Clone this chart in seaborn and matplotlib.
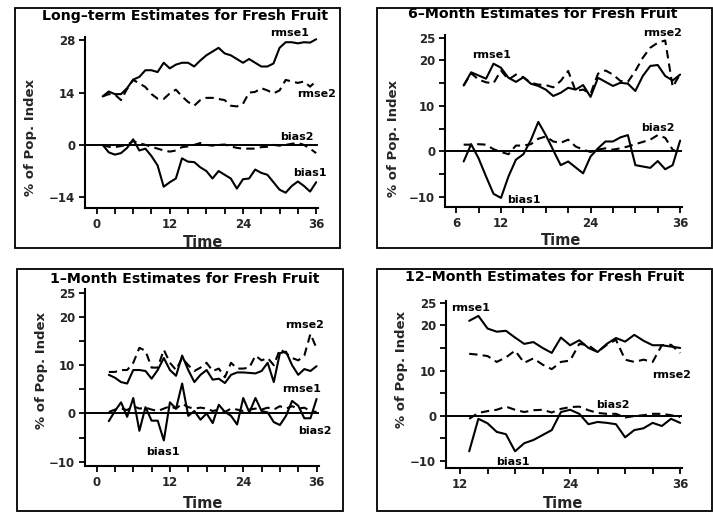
import numpy as np
import pandas as pd
import matplotlib
matplotlib.use("Agg")
import matplotlib.pyplot as plt
from matplotlib.patches import Rectangle
import seaborn as sns

# ---------------- data ----------------
# Long-term estimates (time 1..36)
lt_time = list(range(1, 37))
lt_rmse1 = [13.0, 14.3, 13.6, 13.6, 15.2, 17.5, 18.2, 20.0, 20.0, 19.5, 22.0, 20.5,
            21.5, 22.0, 22.0, 21.0, 22.6, 24.0, 25.0, 26.0, 24.5, 24.0, 23.0, 22.0,
            23.0, 22.0, 21.0, 21.0, 21.8, 26.0, 27.5, 27.5, 27.2, 27.5, 27.4, 28.3]
lt_rmse2 = [13.0, 13.6, 13.5, 12.0, 15.0, 17.4, 16.5, 15.5, 13.6, 12.4, 12.3, 13.8,
            14.8, 13.0, 11.5, 10.5, 12.0, 12.6, 12.6, 12.3, 12.0, 10.5, 10.3, 11.0,
            14.0, 14.2, 15.2, 14.6, 13.8, 14.6, 17.4, 17.0, 16.6, 17.0, 15.6, 17.1]
lt_bias1 = [0.0, -2.0, -2.6, -2.2, -0.8, 1.5, -1.5, -1.0, -3.0, -5.5, -11.2, -10.0,
            -9.0, -3.6, -4.5, -4.6, -6.0, -7.0, -9.0, -7.0, -8.0, -9.0, -11.7, -9.2,
            -9.0, -6.6, -7.5, -8.0, -10.0, -12.0, -12.8, -11.0, -9.8, -11.0, -12.5, -10.0]
lt_bias2 = [0.0, -0.5, -0.6, -0.3, 0.0, 1.0, 0.5, 0.0, -0.5, -1.0, -1.5, -1.8,
            -1.5, -0.6, -0.4, 0.0, 0.5, 0.0, -0.2, 0.0, 0.1, -0.4, -0.8, -1.0,
            -1.0, -1.0, -0.6, -0.5, 0.0, -0.2, 0.0, 0.3, 0.5, 0.0, -1.0, -2.2]

# 6-month estimates (time 7..36)
m6_time = list(range(7, 37))
m6_rmse1 = [14.5, 17.4, 16.7, 16.0, 19.3, 18.4, 16.2, 15.3, 16.3, 14.9, 14.4, 13.6,
            12.2, 12.9, 14.0, 13.6, 14.6, 12.0, 16.2, 15.3, 14.4, 15.1, 14.9, 13.3,
            16.6, 18.8, 19.0, 16.6, 15.6, 16.9]
m6_rmse2 = [14.5, 17.2, 15.8, 15.2, 15.0, 17.8, 15.8, 16.9, 16.3, 15.1, 14.7, 14.6,
            14.1, 15.5, 17.7, 13.3, 13.6, 12.7, 17.1, 17.8, 16.9, 15.5, 15.3, 17.7,
            20.6, 22.8, 23.9, 24.4, 14.2, 17.0]
m6_bias1 = [-2.2, 1.6, -1.5, -5.5, -9.3, -10.2, -5.5, -1.8, -0.6, 2.5, 6.5, 3.6,
            0.3, -3.0, -2.2, -3.5, -4.8, -1.1, 0.7, 2.2, 2.2, 3.1, 3.6, -3.0,
            -3.3, -3.6, -2.1, -3.9, -3.0, 2.4]
m6_bias2 = [1.5, 1.5, 1.6, 1.5, 0.5, -0.1, -0.6, 1.3, 1.3, 1.6, 2.8, 3.3,
            2.2, 1.9, 2.6, 1.1, 0.4, -0.1, 0.4, 0.7, 0.4, 0.7, 1.1, 1.6,
            2.1, 2.6, 3.6, 3.0, 0.4, -0.4]

# 1-month estimates (time 2..36)
m1_time = list(range(2, 37))
m1_rmse1 = [8.0, 7.4, 6.5, 6.2, 9.0, 9.0, 8.8, 7.2, 9.0, 11.5, 9.0, 7.8,
            12.0, 9.0, 6.5, 8.0, 9.0, 7.0, 7.2, 6.3, 8.0, 8.5, 8.5, 8.4,
            8.3, 8.8, 10.5, 6.5, 12.5, 12.8, 10.0, 8.0, 9.2, 8.8, 9.8]
m1_rmse2 = [8.6, 8.6, 9.0, 9.0, 10.5, 13.6, 13.0, 9.5, 9.5, 13.2, 10.5, 9.0,
            11.5, 10.0, 8.8, 9.5, 10.5, 8.8, 9.3, 7.5, 10.5, 9.3, 9.3, 9.5,
            12.0, 11.0, 11.5, 10.0, 13.3, 12.5, 11.5, 11.0, 12.0, 16.5, 13.5]
m1_bias1 = [-1.6, 0.5, 2.3, -0.7, 3.2, -3.6, 1.3, -1.5, -1.5, -5.6, 2.3, 1.0,
            6.2, -0.5, 0.5, -1.3, 0.0, -2.0, 1.8, 0.3, -0.5, -2.3, 3.2, 0.2,
            3.2, 0.5, 0.2, -1.8, -2.4, -0.5, 2.6, 1.6, -1.0, -1.0, 3.0]
m1_bias2 = [0.3, 0.8, 1.0, 0.7, 1.5, 1.0, 1.2, 0.8, 0.5, 1.0, 1.5, 1.0,
            2.0, 1.3, 1.0, 1.2, 1.0, 0.5, 0.8, 0.3, 1.0, 0.8, 0.5, 0.8,
            1.0, 0.8, 1.2, 0.8, 1.5, 1.0, 1.5, 1.0, 1.2, 0.5, 0.3]

# 12-month estimates (time 13..36)
m12_time = list(range(13, 37))
m12_rmse1 = [21.0, 22.1, 19.3, 18.6, 18.8, 17.3, 15.9, 16.3, 15.0, 13.9, 17.3, 15.6,
             16.7, 15.0, 14.1, 15.9, 17.2, 16.4, 17.9, 16.6, 15.6, 15.6, 15.3, 15.0]
m12_rmse2 = [13.7, 13.5, 13.2, 11.9, 12.9, 14.4, 11.7, 12.7, 11.3, 10.3, 11.9, 12.2,
             15.9, 15.6, 14.1, 15.7, 16.8, 12.4, 11.9, 12.4, 11.9, 15.6, 15.7, 13.9]
m12_bias1 = [-7.9, -0.7, -1.7, -3.6, -4.1, -7.9, -6.1, -5.4, -4.3, -3.2, 0.8, 1.3,
             0.4, -1.9, -1.4, -1.6, -1.9, -4.8, -3.2, -2.8, -1.6, -2.3, -0.7, -1.6]
m12_bias2 = [-0.7, 0.6, 1.0, 1.3, 2.0, 1.3, 0.8, 1.2, 1.3, 0.7, 1.5, 1.9,
             2.0, 1.2, 0.6, 0.4, 0.4, -0.4, -0.1, 0.1, 0.4, 0.4, 0.1, -0.3]

series_names = ["rmse1", "rmse2", "bias1", "bias2"]
panel_titles = ["Long\u2013term Estimates for Fresh Fruit",
                "6\u2013Month Estimates for Fresh Fruit",
                "1\u2013Month Estimates for Fresh Fruit",
                "12\u2013Month Estimates for Fresh Fruit"]

# ---------------- styling ----------------
sns.set_theme(style="ticks")
plt.rcParams["font.family"] = ["DejaVu Sans"]
plt.rcParams["font.weight"] = "bold"
plt.rcParams["axes.unicode_minus"] = True

W, H = 713, 512
fig = plt.figure(figsize=(W / 100, H / 100), dpi=100)
fig.patch.set_facecolor("white")


def frac_box(l, r, t, b):
    return [l / W, 1 - b / H, (r - l) / W, (b - t) / H]


panels = [
    dict(time=lt_time, vals=[lt_rmse1, lt_rmse2, lt_bias1, lt_bias2],
         box=frac_box(85, 318, 37, 208), xlim=(-1.9, 36.3), ylim=(-16.9, 28.9),
         xticks=list(range(0, 37, 3)), xlabels={0: "0", 12: "12", 24: "24", 36: "36"},
         yticks=[-14, 0, 14, 28], ylabels={-14: "\u221214", 0: "0", 14: "14", 28: "28"},
         labels={"rmse1": (31.7, 29.9), "rmse2": (36.1, 13.6),
                 "bias2": (32.8, 2.1), "bias1": (34.9, -7.5)},
         ylab=(-0.206, 0.41), xlab=(0.506, -0.158), title=(185, 16),
         frame=(15, 8, 340, 248)),
    dict(time=m6_time, vals=[m6_rmse1, m6_rmse2, m6_bias1, m6_bias2],
         box=frac_box(445, 682, 35, 207), xlim=(4.5, 36.25), ylim=(-12.2, 25.6),
         xticks=list(range(6, 37, 3)), xlabels={6: "6", 12: "12", 24: "24", 36: "36"},
         yticks=list(range(-10, 26, 5)),
         ylabels={-10: "\u221210", 0: "0", 10: "10", 20: "20", 25: "25"},
         labels={"rmse1": (10.8, 21.3), "rmse2": (33.7, 26.1),
                 "bias2": (33.0, 5.2), "bias1": (15.0, -10.6)},
         ylab=(-0.19, 0.40), xlab=(0.49, -0.151), title=(543, 14),
         frame=(377, 8, 712, 248)),
    dict(time=m1_time, vals=[m1_rmse1, m1_rmse2, m1_bias1, m1_bias2],
         box=frac_box(85, 319, 289, 466), xlim=(-1.9, 36.4), ylim=(-10.9, 25.8),
         xticks=list(range(0, 37, 3)), xlabels={0: "0", 12: "12", 24: "24", 36: "36"},
         yticks=list(range(-10, 26, 5)),
         ylabels={-10: "\u221210", 0: "0", 10: "10", 20: "20", 25: "25"},
         labels={"rmse1": (33.6, 5.1), "rmse2": (34.1, 18.4),
                 "bias2": (35.8, -3.6), "bias1": (10.9, -8.0)},
         ylab=(-0.158, 0.54), xlab=(0.506, -0.169), title=(185, 279),
         frame=(17, 269, 343, 511)),
    dict(time=m12_time, vals=[m12_rmse1, m12_rmse2, m12_bias1, m12_bias2],
         box=frac_box(446, 682, 301, 468), xlim=(10.47, 36.2), ylim=(-11.6, 25.4),
         xticks=list(range(12, 37, 3)), xlabels={12: "12", 24: "24", 36: "36"},
         yticks=list(range(-10, 26, 5)),
         ylabels={-10: "\u221210", 0: "0", 10: "10", 20: "20", 25: "25"},
         labels={"rmse1": (13.1, 23.9), "rmse2": (35.1, 8.9),
                 "bias2": (28.7, 2.4), "bias1": (17.8, -10.3)},
         ylab=(-0.16, 0.59), xlab=(0.496, -0.168), title=(545, 277),
         frame=(377, 269, 712, 511)),
]

line_styles = {"rmse1": "-", "rmse2": (0, (4, 2.5)), "bias1": "-", "bias2": (0, (4, 2.5))}

for p, title in zip(panels, panel_titles):
    ax = fig.add_axes(p["box"])
    ax.set_facecolor("white")
    df = pd.DataFrame({"Time": np.tile(p["time"], 4),
                       "value": np.concatenate(p["vals"]),
                       "series": np.repeat(series_names, len(p["time"]))})
    for name in series_names:
        sub = df[df["series"] == name]
        sns.lineplot(data=sub, x="Time", y="value", ax=ax, color="black",
                     linewidth=1.5, linestyle=line_styles[name], legend=False)
    ax.axhline(0, color="black", linewidth=1.4, zorder=1)

    ax.set_xlim(*p["xlim"])
    ax.set_ylim(*p["ylim"])
    ax.set_xticks(p["xticks"])
    ax.set_xticklabels([p["xlabels"].get(t, "") for t in p["xticks"]],
                       fontsize=8.5, fontweight="bold")
    ax.set_yticks(p["yticks"])
    ax.set_yticklabels([p["ylabels"].get(t, "") for t in p["yticks"]],
                       fontsize=8.5, fontweight="bold")
    ax.tick_params(axis="both", direction="out", length=4, width=1.3,
                   color="black", pad=3)
    for side in ("top", "right"):
        ax.spines[side].set_visible(False)
    for side in ("left", "bottom"):
        ax.spines[side].set_linewidth(1.5)
        ax.spines[side].set_color("black")

    ax.set_xlabel("Time", fontsize=10.5, fontweight="bold")
    ax.set_ylabel("% of Pop. Index", fontsize=9.5, fontweight="bold")
    ax.xaxis.set_label_coords(*p["xlab"])
    ax.yaxis.set_label_coords(*p["ylab"])

    for name, (lx, ly) in p["labels"].items():
        ax.text(lx, ly, name, ha="center", va="center", fontsize=8,
                fontweight="bold", color="black", clip_on=False)

    tx, ty = p["title"]
    fig.text(tx / W, 1 - ty / H, title, ha="center", va="center",
             fontsize=10.2, fontweight="bold", color="black")

    l, t, r, b = p["frame"]
    fig.add_artist(Rectangle((l / W, 1 - b / H), (r - l) / W, (b - t) / H,
                             transform=fig.transFigure, fill=False,
                             edgecolor="black", linewidth=1.3))

fig.savefig("out.png", dpi=100, facecolor="white")
